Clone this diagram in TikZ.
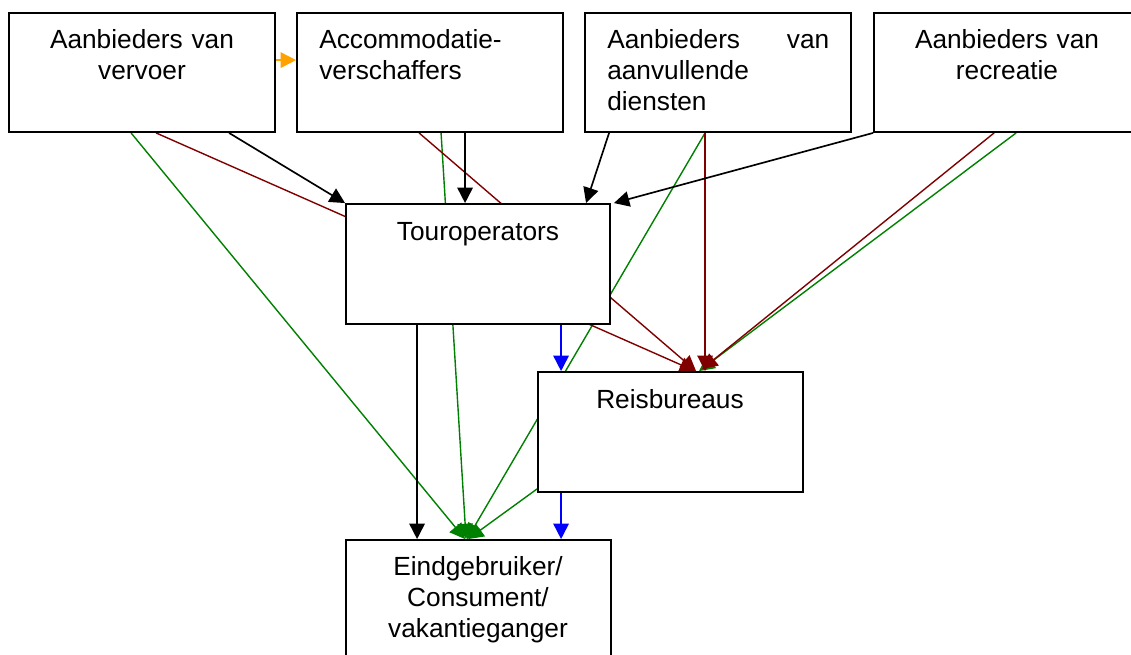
\documentclass[tikz,border=0pt]{standalone}
\usepackage{fontspec}
\setmainfont{Liberation Sans}
\usetikzlibrary{arrows.meta,calc}
\pgfdeclarelayer{bg}
\pgfsetlayers{bg,main}
\def\pxu{0.75pt}
\definecolor{dgreen}{HTML}{008000}
\definecolor{dred}{HTML}{800000}
\definecolor{orng}{HTML}{FFA200}
\definecolor{blu}{HTML}{0000FF}
\begin{document}
\begin{tikzpicture}[x=0.75pt,y=-0.75pt,
  box/.style={draw,fill=white,line width=1.4pt,inner sep=0pt,minimum width={266*\pxu},minimum height={119*\pxu}},
  lbl/.style={inner sep=0pt,font=\fontsize{19.7pt}{23.3pt}\selectfont,text width={222*\pxu}},
  con/.style={line width=1.05pt,-{Triangle[length=11.5pt,width=11.5pt]}},
  blk/.style={con,black,line width=1.25pt},
  grn/.style={con,dgreen},
  red/.style={con,dred},
  blue/.style={con,blu,line width=1.25pt},
  orange/.style={con,orng,line width=1.25pt}
]
\useasboundingbox (0,0) rectangle (1131,654);

% boxes
\node[box] (B1) at (142,72.5) {};
\node[box] (B2) at (430,72.5) {};
\node[box] (B3) at (718,72.5) {};
\node[box] (B4) at (1007,72.5) {};
\node[box,minimum width={264*\pxu},minimum height={120*\pxu}] (TO) at (478,264) {};
\node[box,minimum width={265*\pxu},minimum height={120*\pxu}] (RB) at (670.5,432) {};
\node[box,minimum width={265*\pxu},minimum height={120*\pxu}] (EG) at (478.5,600) {};

% labels
\node[lbl,align=center,anchor=base] (t1) at (142,48) {Aanbieders van\\vervoer};
\node[lbl,align=left,anchor=base west] (t2) at (319,48) {Accommodatie-\\verschaffers};
\node[lbl,align=left,anchor=base west] (t3) at (607,48) {\hbox to 166.5pt{Aanbieders\hfill van}\\aanvullende\\diensten};
\node[lbl,align=center,anchor=base] (t4) at (1007,48) {Aanbieders van\\recreatie};
\node[lbl,align=center,anchor=base] (tTO) at (478,240) {Touroperators};
\node[lbl,align=center,anchor=base] (tRB) at (670,408) {Reisbureaus};
\node[lbl,align=center,anchor=base] (tEG) at (478,575) {Eindgebruiker/\\Consument/\\vakantieganger};

\begin{pgfonlayer}{bg}
% green to consumer
\draw[grn] ($(B1.south west)+(123,0)$) -- ($(EG.north west)+(120,0)$);
\draw[grn] ($(B2.south west)+(145,0)$) -- ($(EG.north west)+(121,0)$);
\draw[grn] ($(B3.south west)+(121,0)$) -- ($(EG.north west)+(122,0)$);
\draw[grn] ($(RB.south west)+(0,-4)$) -- ($(EG.north west)+(123,0)$);
% green to reisbureaus
\draw[grn] ($(B4.south west)+(143,0)$) -- ($(RB.north west)+(162,0)$);
% dark red to reisbureaus
\draw[red] ($(B1.south west)+(148,0)$) -- ($(RB.north west)+(158,0)$);
\draw[red] ($(B2.south west)+(123,0)$) -- ($(RB.north west)+(159,0)$);
\draw[red] ($(B3.south west)+(121,0)$) -- ($(RB.north west)+(168,0)$);
\draw[red] ($(B4.south west)+(121,0)$) -- ($(RB.north west)+(165,-2)$);
% black
\draw[blk] ($(B1.south west)+(221,0)$) -- (TO.north west);
\draw[blk] ($(B2.south west)+(169,0)$) -- ($(TO.north west)+(120,0)$);
\draw[blk] ($(B3.south west)+(25,0)$) -- ($(TO.north west)+(241,0)$);
\draw[blk] (B4.south west) -- ($(TO.north east)+(3,0)$);
\draw[blk] ($(TO.south west)+(72,0)$) -- ($(EG.north west)+(72,0)$);
% blue
\draw[blue] ($(TO.south west)+(216,0)$) -- ($(RB.north west)+(24,0)$);
\draw[blue] ($(RB.south west)+(24,0)$) -- ($(EG.north west)+(216,0)$);
% orange
\draw[orange] ($(B1.north east)+(0,48)$) -- ($(B2.north west)+(0,48)$);
\end{pgfonlayer}
\end{tikzpicture}
\end{document}
